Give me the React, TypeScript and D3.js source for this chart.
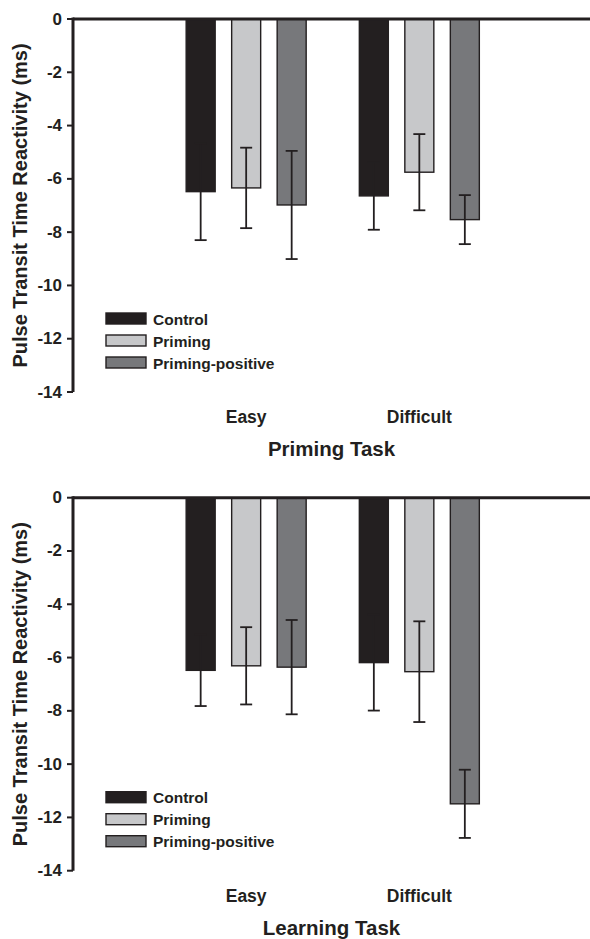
import React from 'react';
import * as d3 from 'd3';

const GROUPS = ['Easy', 'Difficult'];
const SERIES = ['Control', 'Priming', 'Priming-positive'];
const COLORS = ['#231f20', '#c7c8ca', '#77787b'];
const Y_TICKS = [0, -2, -4, -6, -8, -10, -12, -14];

// means [Easy, Difficult] per series
const primingMeans = [
  [-6.48, -6.64],
  [-6.34, -5.75],
  [-6.98, -7.53],
];
const primingErrs = [
  [1.82, 1.27],
  [1.51, 1.43],
  [2.03, 0.92],
];
const learningMeans = [
  [-6.48, -6.19],
  [-6.31, -6.53],
  [-6.36, -11.49],
];
const learningErrs = [
  [1.34, 1.8],
  [1.45, 1.89],
  [1.77, 1.28],
];

const PANELS = [
  { title: 'Priming Task', means: primingMeans, errs: primingErrs, top: 19 },
  { title: 'Learning Task', means: learningMeans, errs: learningErrs, top: 497.7 },
];

const W = 590;
const H = 939;
const AXIS_X = 73;
const PLOT_H = 373;
const FONT = '"Liberation Sans", Arial, Helvetica, sans-serif';
const INK = '#231f20';

function Panel({ title, means, errs, top }) {
  const y = d3.scaleLinear().domain([0, -14]).range([top, top + PLOT_H]);
  const x0 = d3.scaleBand().domain(GROUPS).range([AXIS_X, 592.5]).paddingOuter(0.5).paddingInner(0);
  const x1 = d3.scaleBand().domain(SERIES).range([-60, 60]).paddingInner(0.3626).paddingOuter(0);
  const bw = x1.bandwidth();
  const cx = g => x0(g) + x0.bandwidth() / 2;

  return (
    <g>
      {/* bars */}
      {SERIES.map((s, si) =>
        GROUPS.map((g, gi) => {
          const v = means[si][gi];
          const bx = cx(g) + x1(s);
          return (
            <rect
              key={s + g}
              x={bx}
              y={y(0)}
              width={bw}
              height={y(v) - y(0)}
              fill={COLORS[si]}
              stroke={INK}
              strokeWidth={1.4}
            />
          );
        })
      )}
      {/* error bars */}
      {SERIES.map((s, si) =>
        GROUPS.map((g, gi) => {
          const v = means[si][gi];
          const e = errs[si][gi];
          const mx = cx(g) + x1(s) + bw / 2;
          return (
            <g key={'e' + s + g} stroke={INK} strokeWidth={1.8}>
              <line x1={mx} x2={mx} y1={y(v + e)} y2={y(v - e)} />
              <line x1={mx - 6} x2={mx + 6} y1={y(v + e)} y2={y(v + e)} />
              <line x1={mx - 6} x2={mx + 6} y1={y(v - e)} y2={y(v - e)} />
            </g>
          );
        })
      )}
      {/* zero line */}
      <line x1={AXIS_X} x2={W} y1={y(0)} y2={y(0)} stroke={INK} strokeWidth={3} />
      {/* y axis */}
      <line x1={AXIS_X} x2={AXIS_X} y1={y(0) - 1.5} y2={y(-14)} stroke={INK} strokeWidth={3} />
      {Y_TICKS.map(t => (
        <g key={t}>
          <line x1={AXIS_X - 6} x2={AXIS_X} y1={y(t)} y2={y(t)} stroke={INK} strokeWidth={2} />
          <text
            x={62}
            y={y(t) + 5.5}
            textAnchor="end"
            fontSize={17}
            fontWeight="bold"
            fontFamily={FONT}
            fill={INK}
          >
            {t}
          </text>
        </g>
      ))}
      <text
        x={27}
        y={top + PLOT_H / 2}
        textAnchor="middle"
        fontSize={20}
        fontWeight="bold"
        fontFamily={FONT}
        fill={INK}
        transform={`rotate(-90 27,${top + PLOT_H / 2})`}
      >
        Pulse Transit Time Reactivity (ms)
      </text>
      {/* x labels */}
      {GROUPS.map(g => (
        <text
          key={g}
          x={cx(g)}
          y={top + 404}
          textAnchor="middle"
          fontSize={17.5}
          fontWeight="bold"
          fontFamily={FONT}
          fill={INK}
        >
          {g}
        </text>
      ))}
      <text
        x={(AXIS_X + W) / 2}
        y={top + 437}
        textAnchor="middle"
        fontSize={20.5}
        fontWeight="bold"
        fontFamily={FONT}
        fill={INK}
      >
        {title}
      </text>
      {/* legend */}
      {SERIES.map((s, i) => (
        <g key={'l' + s} transform={`translate(106,${top + 294 + i * 22})`}>
          <rect x={0} y={0} width={40} height={11} fill={COLORS[i]} stroke={INK} strokeWidth={1.4} />
          <text x={47} y={11.5} fontSize={15.5} fontWeight="bold" fontFamily={FONT} fill={INK}>
            {s}
          </text>
        </g>
      ))}
    </g>
  );
}

export default function App() {
  return (
    <svg
      width={W}
      height={H}
      style={{ position: 'absolute', left: 0, top: 0, background: '#fff' }}
    >
      {PANELS.map(p => (
        <Panel key={p.title} {...p} />
      ))}
    </svg>
  );
}
